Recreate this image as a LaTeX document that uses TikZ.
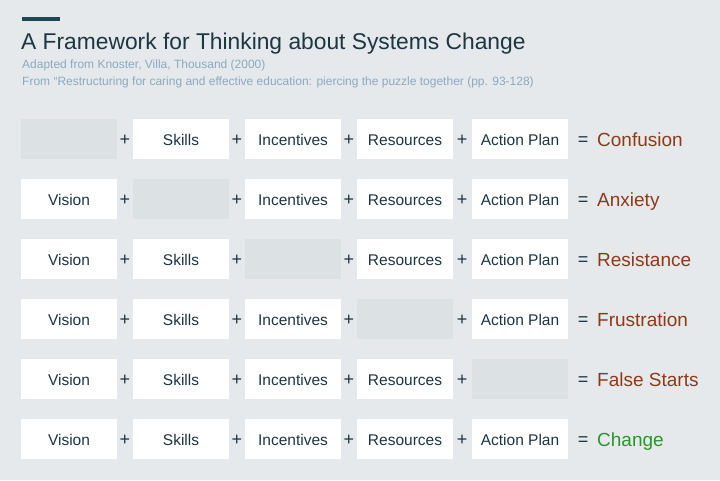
\documentclass[tikz,border=0pt]{standalone}
\usepackage{fontspec}
\setmainfont{Liberation Sans}
\usetikzlibrary{positioning}

\definecolor{bgGrey}{HTML}{E5E9EC}
\definecolor{gapGrey}{HTML}{DCE1E4}
\definecolor{inkDark}{HTML}{1C3642}
\definecolor{barTeal}{HTML}{1E4654}
\definecolor{noteBlue}{HTML}{8AAABF}
\definecolor{lossBrown}{HTML}{8E3A16}
\definecolor{winGreen}{HTML}{2A962A}

\tikzset{
    factor/.style={fill=white, minimum width=96pt, minimum height=40pt, inner sep=0pt,
        text height=16pt, text depth=3pt, font=\fontsize{15.5}{18}\selectfont, text=inkDark},
    gapbox/.style={factor, fill=gapGrey},
    opsign/.style={anchor=base, inner sep=0pt, font=\fontsize{18}{20}\selectfont, text=inkDark},
    outcome/.style={anchor=base west, inner sep=0pt, font=\fontsize{19}{23}\selectfont}
}

\begin{document}
\begin{tikzpicture}[x=1pt, y=-1pt]
    \fill[bgGrey] (0, 0) rectangle (720, 480);
    \useasboundingbox (0, 0) rectangle (720, 480);

    % heading
    \fill[barTeal] (22, 17) rectangle (60, 21);
    \node[anchor=base west, inner sep=0pt, text=inkDark, font=\fontsize{22.8}{27}\selectfont]
        (title) at (21, 49) {A Framework for Thinking about Systems Change};
    \node[anchor=base west, inner sep=0pt, text=noteBlue, font=\fontsize{12}{14}\selectfont]
        (source) at (22, 68.5) {Adapted from Knoster, Villa, Thousand (2000)};
    \node[anchor=base west, inner sep=0pt, text=noteBlue, font=\fontsize{12}{14}\selectfont]
        (book) at (22, 85) {From ``Restructuring for caring and effective education: piercing the puzzle together (pp. 93-128)};

    % one row per missing factor
    \foreach \r/\miss/\res/\col in {1/1/Confusion/lossBrown, 2/2/Anxiety/lossBrown,
            3/3/Resistance/lossBrown, 4/4/Frustration/lossBrown,
            5/5/False Starts/lossBrown, 6/0/Change/winGreen} {
        \pgfmathsetmacro{\y}{139 + 60*(\r-1)}
        \foreach \c/\x/\lab in {1/69/Vision, 2/181/Skills, 3/293/Incentives,
                4/405/Resources, 5/520/Action Plan} {
            \ifnum\c=\miss
                \node[gapbox] (f\r-\c) at (\x, \y) {};
            \else
                \node[factor] (f\r-\c) at (\x, \y) {\lab};
            \fi
        }
        \foreach \c/\x in {1/125, 2/237, 3/349, 4/462}
            \node[opsign] (p\r-\c) at (\x, \y+6.5) {+};
        \node[opsign] (eq\r) at (583, \y+6.5) {=};
        \node[outcome, text=\col] (res\r) at (597, \y+7.5) {\res};
    }
\end{tikzpicture}
\end{document}
